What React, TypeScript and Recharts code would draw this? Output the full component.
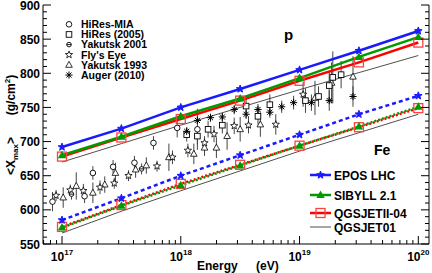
import React from 'react';
import { ComposedChart, Line, Scatter, XAxis, YAxis, ErrorBar } from 'recharts';

// model predictions, log10(E/eV)
const ENERGY = [17, 17.5, 18, 18.5, 19, 19.5, 20];
const EPOS_P = [692, 719, 750, 777, 805, 833, 862];
const SIBYLL_P = [680, 707, 737, 763, 793, 824, 853];
const QGSII_P = [678, 706, 733, 760, 789, 816, 845];
const QGS01_P = [670, 697, 724, 750, 776, 801, 826];
const EPOS_FE = [585, 617, 650, 680, 710, 740, 767];
const SIBYLL_FE = [574, 606, 636, 665, 694, 722, 751];
const QGSII_FE = [575, 607, 638, 666, 694, 721, 749];
const QGS01_FE = [566, 598, 628, 657, 686, 713, 740];

// measurements: [log10 E, <Xmax>, error]
const HIRES_MIA = [[16.92, 612, 14], [17.19, 620, 10], [17.26, 654, 10], [17.43, 663, 10], [17.61, 669, 10], [17.77, 698, 10], [17.97, 720, 14], [18.14, 718, 30]];
const HIRES_2005 = [[18.05, 710, 10], [18.14, 708, 12], [18.23, 718, 12], [18.35, 724, 12], [18.55, 752, 12], [18.65, 737, 12], [18.75, 754, 15], [19.05, 760, 18], [19.16, 766, 15], [19.25, 782, 20], [19.28, 794, 38], [19.35, 798, 20]];
const YAKUTSK_2001 = [[17.08, 623, 8], [17.67, 660, 8]];
const FLYS_EYE = [[16.95, 621, 8], [17.07, 629, 8], [17.18, 628, 10], [17.32, 633, 10], [17.44, 639, 8], [17.56, 650, 8], [17.8, 664, 8], [17.93, 677, 10], [18.06, 687, 10], [18.2, 698, 10], [18.28, 711, 12], [18.45, 723, 12], [18.57, 724, 12], [18.8, 725, 15], [19.03, 769, 18]];
const YAKUTSK_1993 = [[17.01, 618, 15], [17.12, 635, 20], [17.26, 625, 15], [17.36, 637, 12], [17.45, 654, 15], [17.62, 659, 12], [17.71, 665, 12], [17.9, 677, 20], [18.11, 682, 15], [18.2, 691, 12], [18.3, 691, 15], [18.39, 708, 20], [18.5, 718, 18], [18.67, 725, 18], [19.13, 764, 25], [19.27, 786, 30], [19.45, 795, 30]];
const AUGER_2010 = [[18.05, 715, 6], [18.14, 731, 6], [18.25, 735, 6], [18.35, 736, 6], [18.45, 747, 7], [18.55, 740, 7], [18.65, 747, 8], [18.75, 743, 8], [18.85, 751, 9], [18.95, 757, 10], [19.1, 757, 12], [19.25, 760, 15], [19.45, 766, 15]];

const X_DECADES = [17, 18, 19, 20];
const Y_LABELS = [550, 600, 650, 700, 750, 800, 850, 900];

const X_DOMAIN: [number, number] = [16.84, 20.09];
const Y_DOMAIN: [number, number] = [550, 900];

const modelRows = ENERGY.map((e, i) => ({
  e,
  eposP: EPOS_P[i], sibP: SIBYLL_P[i], qgsP: QGSII_P[i], q01P: QGS01_P[i],
  eposFe: EPOS_FE[i], sibFe: SIBYLL_FE[i], qgsFe: QGSII_FE[i], q01Fe: QGS01_FE[i],
}));
const toPts = (arr: number[][]) => arr.map(([e, v, err]) => ({ e, v, err }));

// tick positions
const xTicks: number[] = [];
for (let n = 16; n <= 20; n++) {
  for (let k = 1; k <= 9; k++) {
    const t = n + Math.log10(k);
    if (t >= X_DOMAIN[0] && t <= X_DOMAIN[1]) xTicks.push(t);
  }
}
const yTicks: number[] = [];
for (let v = 550; v <= 900; v += 10) yTicks.push(v);

const FONT = '"Liberation Sans", Arial, Helvetica, sans-serif';
const BLUE = '#1a1aff';
const GREEN = '#009a00';
const RED = '#ff0000';

const isDecade = (v: number) => X_DECADES.some((d) => Math.abs(v - d) < 1e-6);

const XTick = ({ x, y, payload, side }: any) => {
  const major = isDecade(payload.value);
  const len = major ? 8 : 4;
  const dir = side === 'top' ? 1 : -1;
  return (
    <g>
      <line x1={x} x2={x} y1={y} y2={y + dir * len} stroke="#000" />
      {side !== 'top' && major && (
        <text x={x} y={y + 17} textAnchor="middle" fontFamily={FONT} fontWeight="bold" fontSize={12} fill="#000">
          10<tspan dy={-6} fontSize={8}>{Math.round(payload.value)}</tspan>
        </text>
      )}
    </g>
  );
};

const YTick = ({ x, y, payload, side }: any) => {
  const major = payload.value % 50 === 0;
  const len = major ? 8 : 4;
  const dir = side === 'right' ? -1 : 1;
  return (
    <g>
      <line x1={x} x2={x + dir * len} y1={y} y2={y} stroke="#000" />
      {side !== 'right' && major && Y_LABELS.includes(payload.value) && (
        <text x={x - 3} y={y + 4.5} textAnchor="end" fontFamily={FONT} fontWeight="bold" fontSize={12} fill="#000">
          {payload.value}
        </text>
      )}
    </g>
  );
};

const starPoints = (cx: number, cy: number, r: number) => {
  const pts: string[] = [];
  for (let i = 0; i < 10; i++) {
    const a = -Math.PI / 2 + (i * Math.PI) / 5;
    const rr = i % 2 === 0 ? r : r * 0.42;
    pts.push(`${cx + rr * Math.cos(a)},${cy + rr * Math.sin(a)}`);
  }
  return pts.join(' ');
};

const FilledStar = ({ cx, cy, color }: any) => <polygon points={starPoints(cx, cy, 4)} fill={color} stroke={color} />;
const FilledTri = ({ cx, cy, color }: any) => (
  <polygon points={`${cx},${cy - 4.5} ${cx + 4.2},${cy + 3} ${cx - 4.2},${cy + 3}`} fill={color} />
);
const OpenSquareRed = ({ cx, cy }: any) => (
  <rect x={cx - 4.5} y={cy - 4.5} width={9} height={9} fill="none" stroke="#ff4040" strokeWidth={1.3} />
);

const OpenCircle = ({ cx, cy }: any) => <circle cx={cx} cy={cy} r={2.8} fill="#fff" stroke="#000" strokeWidth={0.9} />;
const OpenSquare = ({ cx, cy }: any) => <rect x={cx - 2.8} y={cy - 2.8} width={5.6} height={5.6} fill="#fff" stroke="#000" strokeWidth={0.9} />;
const CrossCircle = ({ cx, cy }: any) => (
  <g>
    <circle cx={cx} cy={cy} r={2.3} fill="#fff" stroke="#000" strokeWidth={0.9} />
    <line x1={cx - 2.3} x2={cx + 2.3} y1={cy} y2={cy} stroke="#000" strokeWidth={0.9} />
  </g>
);
const OpenStar = ({ cx, cy }: any) => <polygon points={starPoints(cx, cy, 3.8)} fill="#fff" stroke="#000" strokeWidth={0.8} />;
const OpenTri = ({ cx, cy }: any) => (
  <polygon points={`${cx},${cy - 3.6} ${cx + 3.3},${cy + 2.4} ${cx - 3.3},${cy + 2.4}`} fill="#fff" stroke="#000" strokeWidth={0.8} />
);
const Asterisk = ({ cx, cy }: any) => {
  const r = 3.6;
  const d = r * 0.707;
  return (
    <g stroke="#000" strokeWidth={1}>
      <line x1={cx - r} x2={cx + r} y1={cy} y2={cy} />
      <line x1={cx} x2={cx} y1={cy - r} y2={cy + r} />
      <line x1={cx - d} x2={cx + d} y1={cy - d} y2={cy + d} />
      <line x1={cx - d} x2={cx + d} y1={cy + d} y2={cy - d} />
    </g>
  );
};

const dotOf = (Comp: any, color?: string) => (p: any) => <Comp key={p.index} cx={p.cx} cy={p.cy} color={color} />;

const expLegend = [
  { name: 'HiRes-MIA', Shape: OpenCircle },
  { name: 'HiRes (2005)', Shape: OpenSquare },
  { name: 'Yakutsk 2001', Shape: CrossCircle },
  { name: "Fly's Eye", Shape: OpenStar },
  { name: 'Yakutsk 1993', Shape: OpenTri },
  { name: 'Auger (2010)', Shape: Asterisk },
];

const modelLegend = [
  { name: 'EPOS LHC', color: BLUE, width: 2.5, Marker: FilledStar, y: 175 },
  { name: 'SIBYLL 2.1', color: GREEN, width: 2.5, Marker: FilledTri, y: 195 },
  { name: 'QGSJETII-04', color: RED, width: 2.5, Marker: OpenSquareRed, y: 213 },
  { name: 'QGSJET01', color: '#222', width: 0.8, Marker: null, y: 227 },
];

export default function App() {
  const txt = { fontFamily: FONT, fontWeight: 'bold' as const, fill: '#000' };
  return (
    <div style={{ position: 'absolute', left: 0, top: 0, width: 432, height: 273, background: '#fff' }}>
      <ComposedChart width={432} height={273} data={modelRows} margin={{ top: 5, right: 0, bottom: 0, left: 0 }}>
        <XAxis dataKey="e" type="number" domain={X_DOMAIN} ticks={xTicks} interval={0} allowDataOverflow
          height={29} tickSize={0} tickMargin={0} tickLine={false} axisLine={{ stroke: '#000' }}
          tick={(p: any) => <XTick {...p} side="bottom" />} />
        <XAxis xAxisId="top" orientation="top" type="number" domain={X_DOMAIN} ticks={xTicks} interval={0} allowDataOverflow
          height={0} tickSize={0} tickMargin={0} tickLine={false} axisLine={{ stroke: '#000' }}
          tick={(p: any) => <XTick {...p} side="top" />} />
        <YAxis dataKey="v" type="number" domain={Y_DOMAIN} ticks={yTicks} interval={0} allowDataOverflow
          width={43} tickSize={0} tickMargin={0} tickLine={false} axisLine={{ stroke: '#000' }}
          tick={(p: any) => <YTick {...p} side="left" />} />
        <YAxis yAxisId="r" orientation="right" type="number" domain={Y_DOMAIN} ticks={yTicks} interval={0} allowDataOverflow
          width={3} tickSize={0} tickMargin={0} tickLine={false} axisLine={{ stroke: '#000' }}
          tick={(p: any) => <YTick {...p} side="right" />} />

        {/* experimental data */}
        <Scatter data={toPts(YAKUTSK_1993)} isAnimationActive={false} shape={(p: any) => <OpenTri cx={p.cx} cy={p.cy} />}>
          <ErrorBar dataKey="err" direction="y" width={0} stroke="#444" strokeWidth={1} />
        </Scatter>
        <Scatter data={toPts(HIRES_2005)} isAnimationActive={false} shape={(p: any) => <OpenSquare cx={p.cx} cy={p.cy} />}>
          <ErrorBar dataKey="err" direction="y" width={0} stroke="#444" strokeWidth={1} />
        </Scatter>
        <Scatter data={toPts(FLYS_EYE)} isAnimationActive={false} shape={(p: any) => <OpenStar cx={p.cx} cy={p.cy} />}>
          <ErrorBar dataKey="err" direction="y" width={0} stroke="#444" strokeWidth={1} />
        </Scatter>
        <Scatter data={toPts(HIRES_MIA)} isAnimationActive={false} shape={(p: any) => <OpenCircle cx={p.cx} cy={p.cy} />}>
          <ErrorBar dataKey="err" direction="y" width={0} stroke="#444" strokeWidth={1} />
        </Scatter>
        <Scatter data={toPts(YAKUTSK_2001)} isAnimationActive={false} shape={(p: any) => <CrossCircle cx={p.cx} cy={p.cy} />}>
          <ErrorBar dataKey="err" direction="y" width={0} stroke="#444" strokeWidth={1} />
        </Scatter>
        <Scatter data={toPts(AUGER_2010)} isAnimationActive={false} shape={(p: any) => <Asterisk cx={p.cx} cy={p.cy} />}>
          <ErrorBar dataKey="err" direction="y" width={0} stroke="#444" strokeWidth={1} />
        </Scatter>

        {/* models */}
        <Line dataKey="q01P" stroke="#222" strokeWidth={0.8} dot={false} isAnimationActive={false} />
        <Line dataKey="q01Fe" stroke="#222" strokeWidth={0.8} dot={false} isAnimationActive={false} />
        <Line dataKey="qgsP" stroke={RED} strokeWidth={2.5} dot={dotOf(OpenSquareRed)} isAnimationActive={false} />
        <Line dataKey="qgsFe" stroke={RED} strokeWidth={2.5} strokeDasharray="2 2" dot={dotOf(OpenSquareRed)} isAnimationActive={false} />
        <Line dataKey="sibP" stroke={GREEN} strokeWidth={2.5} dot={dotOf(FilledTri, GREEN)} isAnimationActive={false} />
        <Line dataKey="sibFe" stroke={GREEN} strokeWidth={2.5} strokeDasharray="2 2" strokeDashoffset={2} dot={dotOf(FilledTri, GREEN)} isAnimationActive={false} />
        <Line dataKey="eposP" stroke={BLUE} strokeWidth={2.5} dot={dotOf(FilledStar, BLUE)} isAnimationActive={false} />
        <Line dataKey="eposFe" stroke={BLUE} strokeWidth={2.5} strokeDasharray="4 3" dot={dotOf(FilledStar, BLUE)} isAnimationActive={false} />
      </ComposedChart>

      <svg width={432} height={273} style={{ position: 'absolute', left: 0, top: 0, pointerEvents: 'none' }}>
        {expLegend.map((it, i) => {
          const cy = 24.3 + i * 10.15;
          return (
            <g key={it.name}>
              <it.Shape cx={69} cy={cy} />
              <text x={81} y={cy + 3.8} fontSize={10.5} {...txt}>{it.name}</text>
            </g>
          );
        })}
        {modelLegend.map((it) => (
          <g key={it.name}>
            <line x1={310} x2={331} y1={it.y} y2={it.y} stroke={it.color} strokeWidth={it.width} />
            {it.Marker && <it.Marker cx={320.5} cy={it.y} color={it.color} />}
            <text x={334} y={it.y + 4.5} fontSize={12} {...txt}>{it.name}</text>
          </g>
        ))}
        <text x={284} y={40} fontSize={15} {...txt}>p</text>
        <text x={374} y={155} fontSize={14} {...txt}>Fe</text>
        <text x={197} y={270} fontSize={12} {...txt}>Energy</text>
        <text x={256} y={270} fontSize={12} {...txt}>(eV)</text>
        <text transform="translate(15,156) rotate(-90)" textAnchor="middle" fontSize={12} {...txt}>
          &lt;X<tspan dy={3} fontSize={8}>max</tspan><tspan dy={-3}>&gt;</tspan>
        </text>
        <text transform="translate(15,95) rotate(-90)" textAnchor="middle" fontSize={12} {...txt}>
          (g/cm<tspan dy={-5} fontSize={8}>2</tspan><tspan dy={5}>)</tspan>
        </text>
      </svg>
    </div>
  );
}
